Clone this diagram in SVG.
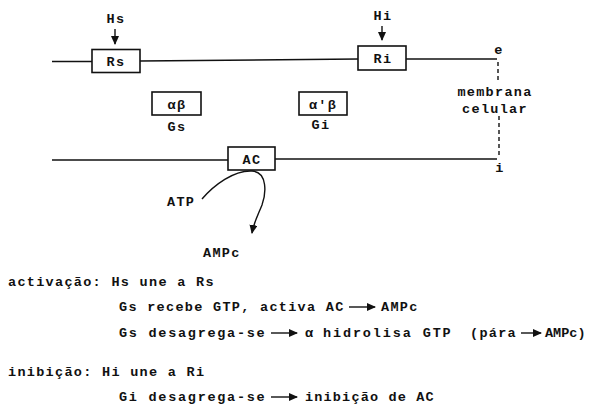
<svg xmlns="http://www.w3.org/2000/svg" width="592" height="407" viewBox="0 0 592 407">
<style>
.t{font-family:"Liberation Mono","DejaVu Sans Mono",monospace;font-weight:bold;font-size:13.5px;letter-spacing:1.3px;fill:#111}
.c{text-anchor:middle}
.ln{stroke:#111;stroke-width:1.6;fill:none}
.bx{stroke:#111;stroke-width:1.6;fill:#fff}
.ar{stroke:#111;stroke-width:1.4;fill:none;marker-end:url(#ah)}
.dash{stroke:#111;stroke-width:1.4;stroke-dasharray:4,3;fill:none}
</style>
<defs>
<marker id="ah" markerUnits="userSpaceOnUse" markerWidth="9" markerHeight="8" refX="8" refY="4" orient="auto">
<path d="M0,0 L9,4 L0,8 Z" fill="#111"/>
</marker>
</defs>
<g id="connectors">
<line class="ln" x1="52" y1="61.5" x2="92" y2="61.5"/>
<line class="ln" x1="140" y1="61" x2="358" y2="59"/>
<line class="ln" x1="406" y1="59" x2="497" y2="59"/>
<line class="ln" x1="52" y1="160" x2="228" y2="160"/>
<line class="ln" x1="275" y1="159" x2="497" y2="159"/>
<line class="dash" x1="498" y1="62" x2="498" y2="82"/>
<line class="dash" x1="499" y1="116" x2="499" y2="158"/>
<line class="ar" x1="115" y1="29" x2="115" y2="44"/>
<line class="ar" x1="382" y1="26" x2="382" y2="40"/>
<path class="ar" d="M202,199 C214,185 234,170 252,171 C268,172 266,194 262,205 C258,215 254,222 252,233"/>
</g>
<g id="Hs"><text class="t c" x="116" y="23">Hs</text></g>
<g id="Rs"><rect class="bx" x="92" y="49.5" width="48" height="23"/><text class="t c" x="116" y="66">Rs</text></g>
<g id="Hi"><text class="t c" x="383" y="20">Hi</text></g>
<g id="Ri"><rect class="bx" x="358" y="46" width="48" height="24"/><text class="t c" x="383" y="63">Ri</text></g>
<g id="e"><text class="t c" x="499" y="54">e</text></g>
<g id="membrana"><text class="t c" x="495" y="96">membrana</text><text class="t c" x="495" y="113">celular</text></g>
<g id="i"><text class="t c" x="500" y="172">i</text></g>
<g id="Gs"><rect class="bx" x="152" y="92" width="49" height="23"/><text class="t c" x="177" y="109">αβ</text><text class="t c" x="177" y="131">Gs</text></g>
<g id="Gi"><rect class="bx" x="299" y="92" width="48" height="23"/><text class="t c" x="323" y="109">α'β</text><text class="t c" x="321" y="129">Gi</text></g>
<g id="AC"><rect class="bx" x="228" y="147" width="47" height="23"/><text class="t c" x="252" y="164">AC</text></g>
<g id="ATP"><text class="t" x="167" y="206">ATP</text></g>
<g id="AMPc"><text class="t" x="203" y="257">AMPc</text></g>
<g id="notes">
<text class="t" x="8" y="286">activação: Hs une a Rs</text>
<text class="t" x="119" y="311">Gs recebe GTP, activa AC</text>
<line class="ar" x1="349" y1="307" x2="375" y2="307"/>
<text class="t" x="381" y="311">AMPc</text>
<text class="t" x="119" y="337" textLength="147">Gs desagrega-se</text>
<line class="ar" x1="271" y1="333" x2="297" y2="333"/>
<text class="t" x="305" y="337">α</text>
<text class="t" x="323" y="337" textLength="129">hidrolisa GTP</text>
<text class="t" x="470" y="337">(pára</text>
<line class="ar" x1="521" y1="333" x2="541" y2="333"/>
<text class="t" x="545" y="337" style="letter-spacing:0">AMPc)</text>
<text class="t" x="8" y="376">inibição: Hi une a Ri</text>
<text class="t" x="119" y="401" textLength="147">Gi desagrega-se</text>
<line class="ar" x1="271" y1="397" x2="297" y2="397"/>
<text class="t" x="305" y="401" textLength="130">inibição de AC</text>
</g>
</svg>
